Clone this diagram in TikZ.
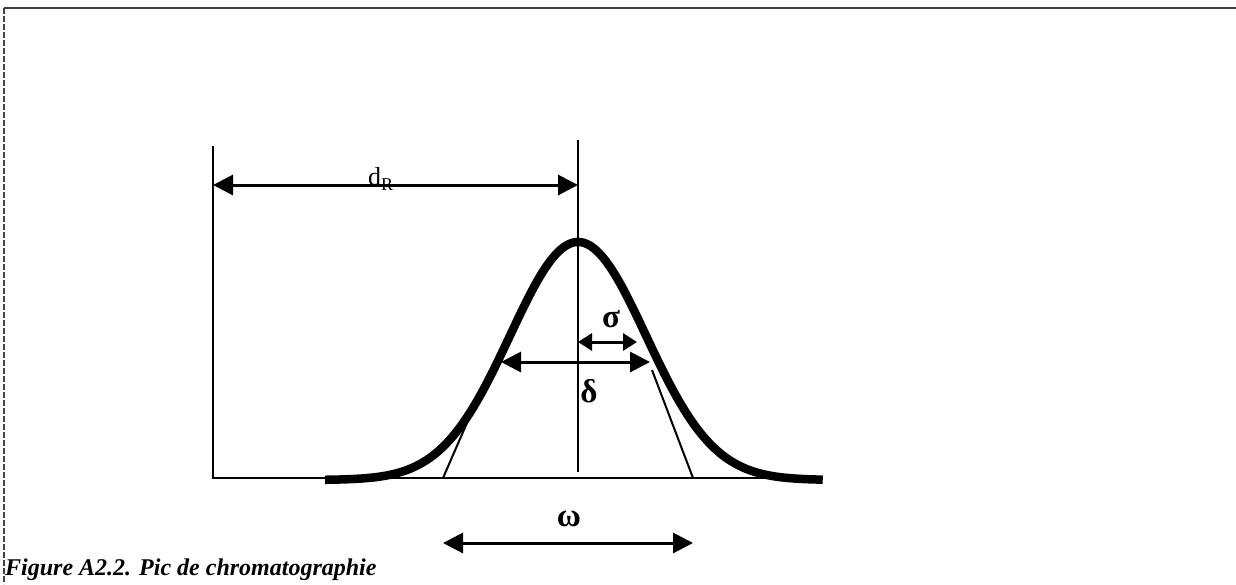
\documentclass[tikz,border=0pt]{standalone}
\usepackage{fontspec}
\setmainfont{Liberation Serif}
\usetikzlibrary{arrows.meta}
\tikzset{
  thin line/.style={line width=2pt, black},
  dim arrow/.style={line width=3pt, {Triangle[length=20pt,width=20pt]}-{Triangle[length=20pt,width=20pt]}},
  small arrow/.style={line width=3pt, {Triangle[length=14pt,width=17pt]}-{Triangle[length=14pt,width=17pt]}},
  peak/.style={line width=8.5pt, line cap=butt, line join=round},
  frame line/.style={line width=1.2pt, black!75},
  label/.style={inner sep=0pt, font=\fontsize{33}{36}\selectfont\bfseries},
  caption/.style={inner sep=0pt, anchor=base west, font=\fontsize{24}{28}\selectfont\bfseries\itshape}
}
\begin{document}
\begin{tikzpicture}[x=1pt,y=-1pt]
\useasboundingbox (0,0) rectangle (1236,584);
% frame
\coordinate (fTL) at (4,8);
\coordinate (fTR) at (1236,8);
\coordinate (fBL) at (4,584);
\draw[frame line] (fTL) -- (fTR);
\draw[frame line, dash pattern=on 6pt off 2pt] (fTL) -- (fBL);
% axes
\coordinate (axTop) at (213,146);
\coordinate (axO) at (213,478);
\coordinate (axEnd) at (823,478);
\draw[thin line] (axTop) -- (axO) -- (axEnd);
% centre line
\coordinate (cTop) at (578,140);
\coordinate (cBot) at (578,472);
\draw[thin line] (cTop) -- (cBot);
% tangents
\coordinate (tLb) at (443,478);
\coordinate (tLt) at (490,370);
\coordinate (tRb) at (693,478);
\coordinate (tRt) at (652,370);
\draw[thin line] (tLb) -- (tLt);
\draw[thin line] (tRb) -- (tRt);
% peak
\draw[peak] plot[domain=-3.72:3.6, samples=240] ({578+68*\x},{480-238*exp(-\x*\x/2)});
% d_R
\coordinate (dRl) at (213,185);
\coordinate (dRr) at (578,185);
\draw[dim arrow] (dRl) -- (dRr);
\node[inner sep=0pt, anchor=base west] (dR) at (368,185) {\fontsize{26}{28}\selectfont d\raisebox{-5pt}{\fontsize{18}{20}\selectfont R}};
% sigma
\coordinate (sl) at (578,342);
\coordinate (sr) at (637,342);
\draw[small arrow] (sl) -- (sr);
\node[label] (sig) at (611,319) {σ};
% delta
\coordinate (dl) at (501,362);
\coordinate (dr) at (650,362);
\draw[dim arrow] (dl) -- (dr);
\node[label] (del) at (589,391) {δ};
% omega
\coordinate (wl) at (443,543);
\coordinate (wr) at (693,543);
\draw[dim arrow] (wl) -- (wr);
\node[label] (om) at (569,519) {ω};
% caption
\node[caption] (cap) at (5,575) {Figure A2.2. Pic de chromatographie};
\end{tikzpicture}
\end{document}
